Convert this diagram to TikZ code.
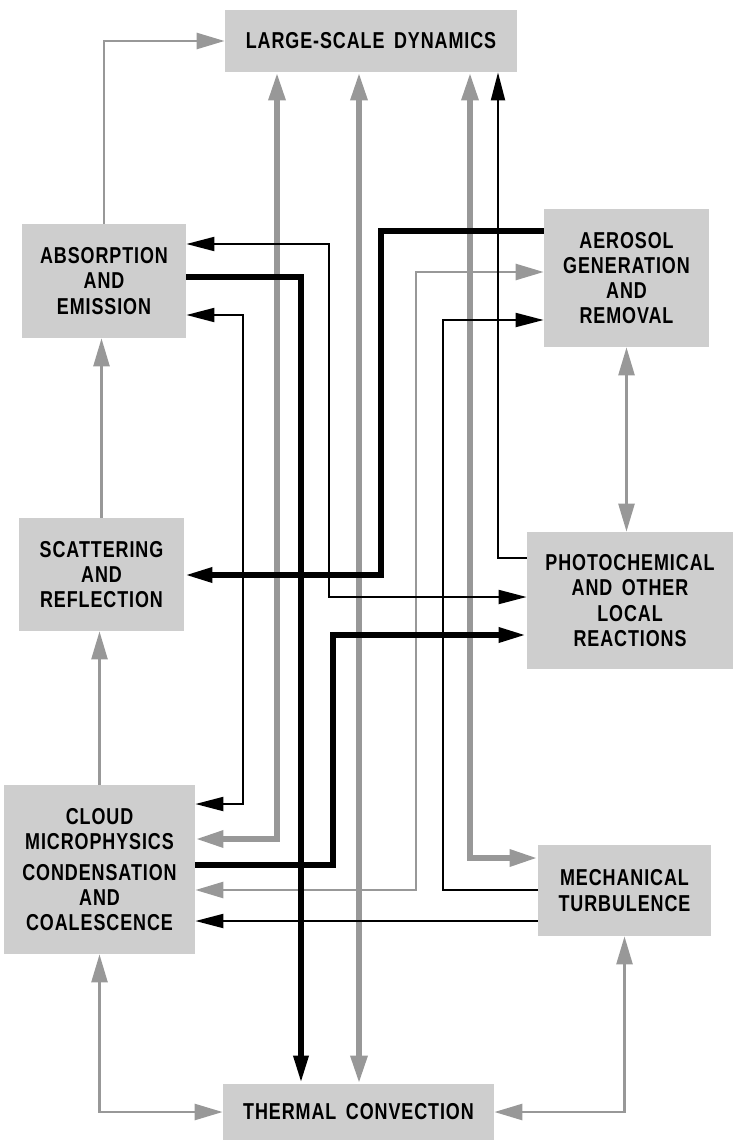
\documentclass[tikz,border=0pt]{standalone}
\usepackage{fontspec}
\setmainfont{Liberation Sans}[FakeStretch=0.78,WordSpace=1.6,LetterSpace=4]
\usetikzlibrary{arrows.meta}
\definecolor{boxgray}{RGB}{206,206,206}
\definecolor{linegray}{RGB}{152,152,152}

\begin{document}
\begin{tikzpicture}[x=0.5pt, y=-0.5pt,
    every node/.style={fill=boxgray, inner sep=0pt, align=center, font=\fontsize{11.5}{12.6}\selectfont\bfseries},
    ln/.style={draw=black, line width=1pt, >={Triangle[length=14pt,width=7pt]}},
    lnthick/.style={ln, line width=3pt},
    gln/.style={draw=linegray, line width=1.3pt, >={Triangle[length=14pt,width=8pt]}},
    glnthick/.style={gln, line width=3pt}]
    \useasboundingbox (0,0) rectangle (733,1145);
    % boxes
    \node[minimum width=146pt, minimum height=31pt] (LSD) at (371,41) {LARGE-SCALE DYNAMICS};
    \node[minimum width=82pt, minimum height=57pt] (ABS) at (104,281) {ABSORPTION\\AND\\EMISSION};
    \node[minimum width=82.5pt, minimum height=69pt] (AER) at (626.5,278) {AEROSOL\\GENERATION\\AND\\REMOVAL};
    \node[minimum width=82.5pt, minimum height=56.5pt] (SCA) at (101.5,574.5) {SCATTERING\\AND\\REFLECTION};
    \node[minimum width=103pt, minimum height=68.5pt] (PHO) at (630,600.5) {PHOTOCHEMICAL\\AND OTHER\\LOCAL\\REACTIONS};
    \node[minimum width=95.5pt, minimum height=84.5pt] (CLD) at (99.5,869.5) {CLOUD\\MICROPHYSICS\\[3pt]CONDENSATION\\AND\\COALESCENCE};
    \node[minimum width=86.5pt, minimum height=45.5pt] (MEC) at (624.5,890.5) {MECHANICAL\\TURBULENCE};
    \node[minimum width=135.5pt, minimum height=28pt] (THC) at (358.5,1112) {THERMAL CONVECTION};
    % gray links
    \draw[gln,->] (ABS.north) |- (LSD.west);
    \draw[gln,->] (SCA.north) -- (SCA.north |- ABS.south);
    \draw[gln,->] (CLD.north) -- (CLD.north |- SCA.south);
    \draw[gln,<->] (CLD.south) |- (THC.west);
    \draw[gln,<->] (MEC.south) |- (THC.east);
    \draw[gln,<->] (AER.south) -- (AER.south |- PHO.north);
    \draw[gln,<->] (AER.west |- 0,272) -| (416,890) -- (CLD.east |- 0,890);
    \draw[glnthick,<->] (CLD.east |- 0,839) -| (LSD.south -| 277,0);
    \draw[glnthick,<->] (LSD.south -| 359,0) -- (THC.north -| 359,0);
    \draw[glnthick,<->] (LSD.south -| 470,0) |- (MEC.west |- 0,858);
    % black links
    \draw[ln,->] (PHO.west |- 0,558) -| (LSD.south -| 498,0);
    \draw[ln,<->] (ABS.east |- 0,244) -| (329,597) -- (PHO.west |- 0,597);
    \draw[ln,<->] (ABS.east |- 0,315) -| (243,804) -- (CLD.east |- 0,804);
    \draw[ln,->] (MEC.west |- 0,890) -| (443,320) -- (AER.west |- 0,320);
    \draw[ln,->] (MEC.west |- 0,921) -- (CLD.east |- 0,921);
    \draw[lnthick,->] (ABS.east |- 0,277) -| (THC.north -| 301,0);
    \draw[lnthick,->] (AER.west |- 0,231) -| (381,575) -- (SCA.east |- 0,575);
    \draw[lnthick,->] (CLD.east |- 0,865) -| (333,635) -- (PHO.west |- 0,635);
\end{tikzpicture}
\end{document}
